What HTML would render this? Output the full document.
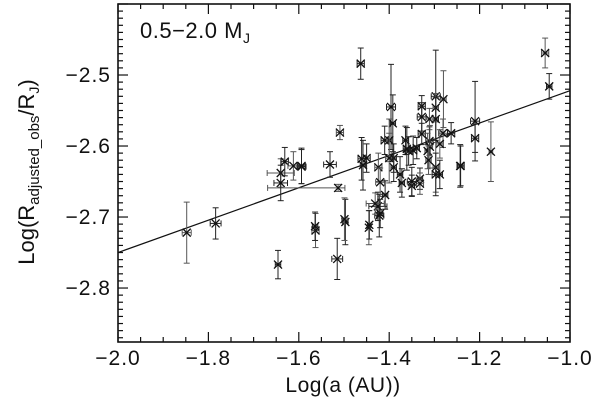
<!DOCTYPE html>
<html><head><meta charset="utf-8"><style>
body{margin:0;background:#fff}
svg{display:block}
text{font-family:"Liberation Sans",sans-serif;fill:#111}
</style></head><body>
<svg id="chart" width="600" height="402" viewBox="0 0 600 402" xmlns="http://www.w3.org/2000/svg">
<g id="axes"></g>
<g id="marks"></g>
<text x="140" y="38" font-size="22" letter-spacing="0.5">0.5−2.0 M<tspan font-size="14" dy="5">J</tspan></text>
<text x="343" y="392" font-size="21" letter-spacing="0.5" text-anchor="middle">Log(a (AU))</text>
<text transform="translate(34,172) rotate(-90)" font-size="22" text-anchor="middle">Log(R<tspan font-size="15" dy="5">adjusted_obs</tspan><tspan dy="-5">/R</tspan><tspan font-size="14" dy="5">J</tspan><tspan dy="-5">)</tspan></text>
</svg>
<script>
const xs=[-1.848,-1.784,-1.646,-1.563,-1.515,-1.497,-1.445,-1.422,-1.425,-1.055,-1.046,-1.463,-1.509,-1.531,-1.594,-1.513,-1.21,-1.21,-1.175,-1.242,-1.297,-1.28,-1.396,-1.328,-1.297,-1.297,-1.328,-1.311,-1.392,-1.328,-1.281,-1.263,-1.41,-1.40,-1.364,-1.311,-1.288,-1.339,-1.357,-1.315,-1.461,-1.45,-1.40,-1.39,-1.458,-1.424,-1.39,-1.376,-1.297,-1.297,-1.288,-1.42,-1.372,-1.332,-1.332,-1.35,-1.409,-1.431,-1.42,-1.444,-1.64,-1.64,-1.631,-1.612,-1.594,-1.564,-1.499,-1.361,-1.347,-1.31,-1.243,-1.35,-1.313];
const ys=[-2.722,-2.709,-2.767,-2.719,-2.759,-2.707,-2.715,-2.698,-2.685,-2.469,-2.516,-2.484,-2.581,-2.626,-2.629,-2.659,-2.565,-2.589,-2.608,-2.628,-2.53,-2.534,-2.545,-2.544,-2.546,-2.562,-2.559,-2.562,-2.568,-2.583,-2.582,-2.582,-2.592,-2.592,-2.592,-2.593,-2.597,-2.603,-2.607,-2.607,-2.618,-2.617,-2.617,-2.617,-2.627,-2.63,-2.63,-2.64,-2.63,-2.64,-2.64,-2.651,-2.652,-2.646,-2.653,-2.656,-2.669,-2.681,-2.695,-2.711,-2.638,-2.652,-2.622,-2.628,-2.628,-2.713,-2.703,-2.604,-2.606,-2.601,-2.628,-2.65,-2.62];
const yErr=[0.043,0.022,0.02,0.024,0.029,0.032,0.024,0.03,0.02,0.021,0.018,0.022,0.01,0.018,0.024,0.005,0.056,0.02,0.042,0.028,0.065,0.04,0.06,0.015,0.02,0.03,0.02,0.015,0.04,0.015,0.02,0.015,0.02,0.03,0.02,0.02,0.02,0.015,0.02,0.025,0.03,0.02,0.035,0.02,0.035,0.02,0.02,0.025,0.035,0.03,0.02,0.02,0.02,0.015,0.015,0.015,0.02,0.015,0.02,0.02,0.02,0.025,0.02,0.02,0.025,0.02,0.03,0.03,0.02,0.03,0.03,0.02,0.02];
const xErrLo=[0.01,0.012,0.006,0.008,0.012,0.006,0.004,0.01,0.02,0.008,0.006,0.008,0.008,0.014,0.01,0.156,0.01,0.008,0.004,0.008,0.01,0.006,0.01,0.008,0.006,0.006,0.01,0.008,0.006,0.008,0.01,0.008,0.008,0.006,0.006,0.008,0.008,0.006,0.008,0.006,0.008,0.008,0.008,0.006,0.006,0.008,0.006,0.006,0.006,0.008,0.006,0.01,0.006,0.006,0.008,0.006,0.006,0.02,0.006,0.004,0.03,0.015,0.008,0.012,0.008,0.006,0.006,0.008,0.008,0.006,0.006,0.01,0.006];
const xErrHi=[0.01,0.012,0.006,0.008,0.012,0.006,0.004,0.01,0.02,0.008,0.006,0.008,0.008,0.014,0.01,0.015,0.01,0.008,0.004,0.008,0.01,0.006,0.01,0.008,0.006,0.006,0.01,0.008,0.006,0.008,0.01,0.008,0.008,0.006,0.006,0.008,0.008,0.006,0.008,0.006,0.008,0.008,0.008,0.006,0.006,0.008,0.006,0.006,0.006,0.008,0.006,0.01,0.006,0.006,0.008,0.006,0.006,0.02,0.006,0.004,0.03,0.015,0.008,0.012,0.008,0.006,0.006,0.008,0.008,0.006,0.006,0.01,0.006];
const fitX=[-2.0,-1.0];
const fitY=[-2.75,-2.522];
const xTicks=[-2.0,-1.8,-1.6,-1.4,-1.2,-1.0];
const xTickLabels=["−2.0","−1.8","−1.6","−1.4","−1.2","−1.0"];
const yTicks=[-2.5,-2.6,-2.7,-2.8];
const yTickLabels=["−2.5","−2.6","−2.7","−2.8"];

const L=118,R=570,T=4,B=342;
const X0=-2.0,X1=-1.0,Y0=-2.876,Y1=-2.4;
const sx=v=>L+(v-X0)/(X1-X0)*(R-L);
const sy=v=>B-(v-Y0)/(Y1-Y0)*(B-T);
const NS="http://www.w3.org/2000/svg";
function mk(parent,tag,attrs){const e=document.createElementNS(NS,tag);for(const k in attrs)e.setAttribute(k,attrs[k]);parent.appendChild(e);return e;}
const axes=document.getElementById('axes');
const frame=mk(axes,'rect',{x:L,y:T,width:R-L,height:B-T,fill:'none',stroke:'#111','stroke-width':1.6});


for(let i=0;i<=20;i++){const v=X0+i*0.05;const px=sx(v);const len=(i%4===0)?10:5;
 mk(axes,'line',{x1:px,x2:px,y1:B,y2:B-len,stroke:'#111','stroke-width':1.2});
 mk(axes,'line',{x1:px,x2:px,y1:T,y2:T+len,stroke:'#111','stroke-width':1.2});}
for(let i=0;i<=47;i++){const v=-2.87+i*0.01;if(v>Y1+1e-9)break;const py=sy(v);const major=Math.abs(Math.round(v*10)-v*10)<1e-6;const len=major?10:5;
 mk(axes,'line',{x1:L,x2:L+len,y1:py,y2:py,stroke:'#111','stroke-width':1.2});
 mk(axes,'line',{x1:R,x2:R-len,y1:py,y2:py,stroke:'#111','stroke-width':1.2});}
xTicks.forEach((v,i)=>{const t=mk(axes,'text',{x:sx(v),y:365,'font-size':21,'letter-spacing':1,'text-anchor':'middle'});t.textContent=xTickLabels[i];
 
 });
yTicks.forEach((v,i)=>{const t=mk(axes,'text',{x:111,y:sy(v)+7,'font-size':21,'letter-spacing':1,'text-anchor':'end'});t.textContent=yTickLabels[i];
 
 });
const fit=mk(axes,'line',{x1:sx(fitX[0]),y1:sy(fitY[0]),x2:sx(fitX[1]),y2:sy(fitY[1]),stroke:'#111','stroke-width':1.2});


const marks=document.getElementById('marks');
xs.forEach((x,i)=>{
 const g=mk(marks,'g',{stroke:i%3===0?'#555':'#222','stroke-width':1,fill:'none'});
 
 
 const px=sx(x),py=sy(ys[i]);const yt=sy(ys[i]+yErr[i]),yb=sy(ys[i]-yErr[i]);
 const xl=sx(x-xErrLo[i]),xr=sx(x+xErrHi[i]);
 mk(g,'line',{x1:px,x2:px,y1:yt,y2:yb});
 mk(g,'line',{x1:px-3,x2:px+3,y1:yt,y2:yt});
 mk(g,'line',{x1:px-3,x2:px+3,y1:yb,y2:yb});
 mk(g,'line',{x1:xl,x2:xr,y1:py,y2:py});
 mk(g,'line',{x1:xl,x2:xl,y1:py-3,y2:py+3});
 mk(g,'line',{x1:xr,x2:xr,y1:py-3,y2:py+3});
 mk(g,'path',{d:`M${px-4},${py-4}L${px+4},${py+4}M${px-4},${py+4}L${px+4},${py-4}`,stroke:'#111','stroke-width':1.3});
});
</script>
</body></html>
